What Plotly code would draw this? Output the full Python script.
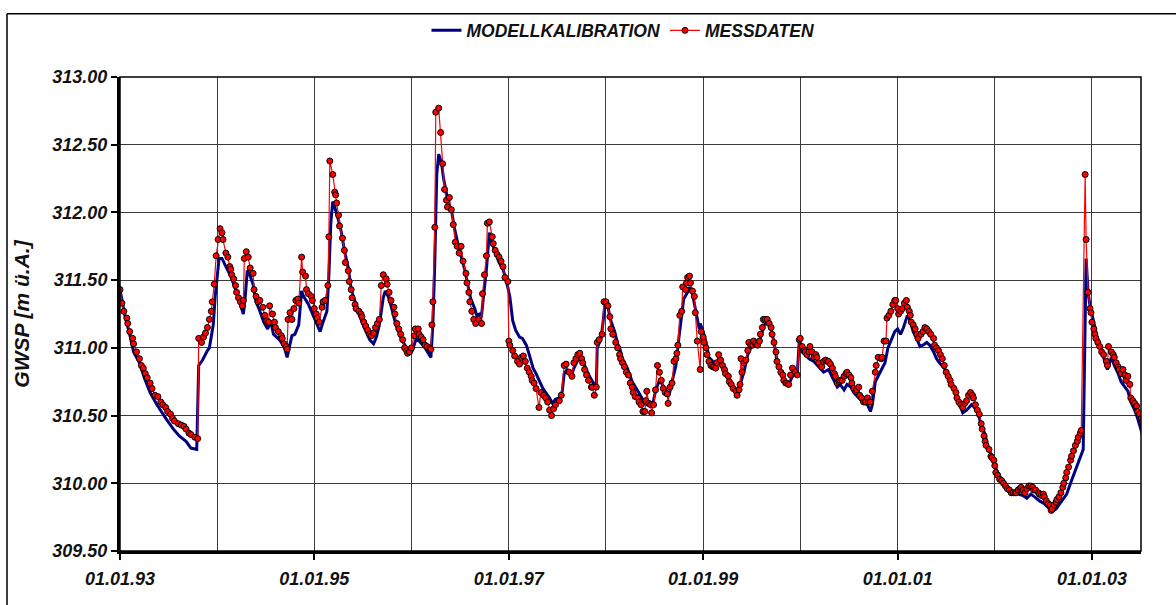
import pandas as pd
import plotly.graph_objects as go

# Zeitpunkte als Dezimaljahr, Grundwasserspiegel in m ü.A.
MESS_JAHR = [
    1993.00, 1993.02, 1993.04, 1993.07, 1993.08, 1993.10, 1993.13, 1993.14, 1993.17, 1993.20,
    1993.22, 1993.24, 1993.26, 1993.28, 1993.31, 1993.33, 1993.36, 1993.39, 1993.42, 1993.44,
    1993.47, 1993.49, 1993.52, 1993.54, 1993.56, 1993.60, 1993.63, 1993.66, 1993.68, 1993.71,
    1993.73, 1993.77, 1993.80, 1993.81, 1993.84, 1993.86, 1993.88, 1993.90, 1993.92, 1993.94,
    1993.95, 1993.97, 1993.99, 1994.01, 1994.03, 1994.05, 1994.06, 1994.09, 1994.11, 1994.13,
    1994.14, 1994.15, 1994.17, 1994.19, 1994.20, 1994.22, 1994.24, 1994.26, 1994.27, 1994.28,
    1994.30, 1994.32, 1994.34, 1994.37, 1994.38, 1994.40, 1994.42, 1994.44, 1994.47, 1994.49,
    1994.51, 1994.53, 1994.54, 1994.57, 1994.59, 1994.60, 1994.63, 1994.66, 1994.67, 1994.69,
    1994.71, 1994.72, 1994.73, 1994.75, 1994.77, 1994.79, 1994.81, 1994.83, 1994.84, 1994.87,
    1994.88, 1994.91, 1994.92, 1994.94, 1994.97, 1994.98, 1995.00, 1995.02, 1995.03, 1995.05,
    1995.08, 1995.09, 1995.11, 1995.14, 1995.15, 1995.16, 1995.19, 1995.21, 1995.22, 1995.23,
    1995.25, 1995.26, 1995.29, 1995.31, 1995.32, 1995.35, 1995.36, 1995.38, 1995.39, 1995.42,
    1995.43, 1995.46, 1995.48, 1995.49, 1995.51, 1995.53, 1995.55, 1995.57, 1995.59, 1995.61,
    1995.63, 1995.65, 1995.67, 1995.69, 1995.71, 1995.74, 1995.75, 1995.77, 1995.79, 1995.82,
    1995.83, 1995.85, 1995.87, 1995.89, 1995.91, 1995.93, 1995.95, 1995.96, 1995.98, 1996.00,
    1996.03, 1996.04, 1996.07, 1996.08, 1996.10, 1996.12, 1996.14, 1996.16, 1996.19, 1996.20,
    1996.21, 1996.22, 1996.24, 1996.25, 1996.28, 1996.30, 1996.32, 1996.34, 1996.36, 1996.37,
    1996.39, 1996.41, 1996.43, 1996.45, 1996.47, 1996.49, 1996.51, 1996.53, 1996.56, 1996.57,
    1996.59, 1996.60, 1996.62, 1996.64, 1996.66, 1996.69, 1996.72, 1996.73, 1996.75, 1996.77,
    1996.78, 1996.80, 1996.83, 1996.84, 1996.86, 1996.88, 1996.90, 1996.92, 1996.94, 1996.96,
    1996.99, 1997.00, 1997.01, 1997.04, 1997.06, 1997.09, 1997.11, 1997.13, 1997.15, 1997.17,
    1997.19, 1997.21, 1997.23, 1997.24, 1997.26, 1997.28, 1997.31, 1997.33, 1997.36, 1997.38,
    1997.40, 1997.42, 1997.44, 1997.46, 1997.48, 1997.52, 1997.54, 1997.57, 1997.59, 1997.62,
    1997.65, 1997.67, 1997.69, 1997.71, 1997.73, 1997.75, 1997.76, 1997.78, 1997.80, 1997.82,
    1997.85, 1997.86, 1997.88, 1997.90, 1997.91, 1997.93, 1997.96, 1997.98, 1998.00, 1998.02,
    1998.04, 1998.05, 1998.07, 1998.10, 1998.12, 1998.14, 1998.15, 1998.17, 1998.19, 1998.21,
    1998.23, 1998.25, 1998.27, 1998.28, 1998.30, 1998.33, 1998.34, 1998.36, 1998.38, 1998.40,
    1998.41, 1998.42, 1998.44, 1998.46, 1998.47, 1998.49, 1998.51, 1998.53, 1998.55, 1998.57,
    1998.59, 1998.61, 1998.63, 1998.64, 1998.66, 1998.68, 1998.70, 1998.72, 1998.73, 1998.74,
    1998.76, 1998.78, 1998.79, 1998.82, 1998.83, 1998.84, 1998.86, 1998.87, 1998.89, 1998.91,
    1998.92, 1998.94, 1998.97, 1998.98, 1999.00, 1999.01, 1999.03, 1999.04, 1999.06, 1999.08,
    1999.10, 1999.11, 1999.13, 1999.14, 1999.16, 1999.18, 1999.20, 1999.22, 1999.23, 1999.26,
    1999.27, 1999.29, 1999.31, 1999.34, 1999.35, 1999.37, 1999.38, 1999.39, 1999.40, 1999.42,
    1999.44, 1999.46, 1999.47, 1999.49, 1999.51, 1999.52, 1999.54, 1999.56, 1999.58, 1999.59,
    1999.61, 1999.62, 1999.64, 1999.66, 1999.68, 1999.70, 1999.71, 1999.73, 1999.75, 1999.76,
    1999.78, 1999.80, 1999.82, 1999.83, 1999.85, 1999.86, 1999.88, 1999.90, 1999.92, 1999.95,
    1999.97, 1999.99, 2000.00, 2000.02, 2000.04, 2000.05, 2000.07, 2000.09, 2000.10, 2000.12,
    2000.14, 2000.16, 2000.17, 2000.19, 2000.22, 2000.24, 2000.26, 2000.28, 2000.29, 2000.31,
    2000.33, 2000.35, 2000.36, 2000.38, 2000.40, 2000.41, 2000.43, 2000.45, 2000.47, 2000.48,
    2000.50, 2000.52, 2000.53, 2000.55, 2000.57, 2000.58, 2000.60, 2000.61, 2000.63, 2000.65,
    2000.67, 2000.69, 2000.70, 2000.72, 2000.74, 2000.77, 2000.78, 2000.80, 2000.83, 2000.84,
    2000.86, 2000.88, 2000.89, 2000.91, 2000.93, 2000.95, 2000.97, 2000.98, 2001.00, 2001.01,
    2001.03, 2001.05, 2001.07, 2001.09, 2001.10, 2001.12, 2001.13, 2001.14, 2001.16, 2001.18,
    2001.20, 2001.21, 2001.24, 2001.26, 2001.28, 2001.30, 2001.32, 2001.34, 2001.37, 2001.38,
    2001.40, 2001.42, 2001.44, 2001.46, 2001.48, 2001.50, 2001.52, 2001.54, 2001.55, 2001.58,
    2001.60, 2001.61, 2001.63, 2001.65, 2001.67, 2001.69, 2001.71, 2001.73, 2001.75, 2001.77,
    2001.78, 2001.80, 2001.82, 2001.84, 2001.86, 2001.87, 2001.89, 2001.90, 2001.91, 2001.94,
    2001.96, 2001.97, 2001.99, 2002.00, 2002.01, 2002.03, 2002.05, 2002.07, 2002.09, 2002.11,
    2002.13, 2002.15, 2002.17, 2002.19, 2002.21, 2002.22, 2002.24, 2002.26, 2002.27, 2002.29,
    2002.31, 2002.33, 2002.35, 2002.37, 2002.39, 2002.40, 2002.42, 2002.45, 2002.46, 2002.48,
    2002.50, 2002.51, 2002.53, 2002.55, 2002.57, 2002.58, 2002.59, 2002.61, 2002.63, 2002.64,
    2002.66, 2002.68, 2002.70, 2002.71, 2002.73, 2002.74, 2002.76, 2002.78, 2002.79, 2002.81,
    2002.83, 2002.85, 2002.86, 2002.88, 2002.89, 2002.93, 2002.94, 2002.96, 2002.98, 2002.99,
    2003.00, 2003.02, 2003.03, 2003.04, 2003.06, 2003.08, 2003.10, 2003.12, 2003.15, 2003.16,
    2003.17, 2003.20, 2003.22, 2003.23, 2003.25, 2003.27, 2003.28, 2003.30, 2003.32, 2003.34,
    2003.35, 2003.37, 2003.39, 2003.40, 2003.42, 2003.44, 2003.46, 2003.47, 2003.49, 2003.51,
    2003.53,
]

MESS_GWSP = [
    311.43, 311.33, 311.27, 311.22, 311.18, 311.12, 311.07, 311.03, 310.97, 310.92,
    310.87, 310.85, 310.81, 310.78, 310.74, 310.70, 310.65, 310.64, 310.60, 310.58,
    310.56, 310.53, 310.51, 310.48, 310.46, 310.44, 310.43, 310.42, 310.40, 310.37,
    310.36, 310.34, 310.33, 311.07, 311.04, 311.08, 311.11, 311.15, 311.21, 311.27,
    311.34, 311.47, 311.68, 311.80, 311.88, 311.85, 311.80, 311.70, 311.67, 311.60,
    311.58, 311.54, 311.51, 311.46, 311.41, 311.37, 311.34, 311.31, 311.35, 311.66,
    311.71, 311.67, 311.59, 311.55, 311.43, 311.38, 311.34, 311.35, 311.30, 311.24,
    311.20, 311.19, 311.31, 311.25, 311.19, 311.15, 311.12, 311.09, 311.07, 311.03,
    311.01, 310.99, 311.21, 311.26, 311.21, 311.29, 311.35, 311.36, 311.33, 311.67,
    311.56, 311.53, 311.43, 311.40, 311.38, 311.35, 311.29, 311.25, 311.22, 311.19,
    311.30, 311.34, 311.35, 311.46, 311.82, 312.38, 312.28, 312.15, 312.13, 312.07,
    311.98, 311.90, 311.81, 311.72, 311.63, 311.57, 311.49, 311.43, 311.37, 311.32,
    311.29, 311.27, 311.25, 311.23, 311.19, 311.16, 311.13, 311.10, 311.09, 311.11,
    311.15, 311.18, 311.21, 311.46, 311.54, 311.51, 311.47, 311.41, 311.35, 311.30,
    311.25, 311.18, 311.14, 311.10, 311.06, 311.00, 310.98, 310.96, 310.97, 311.00,
    311.09, 311.14, 311.14, 311.10, 311.08, 311.06, 311.02, 311.01, 311.00, 310.99,
    311.17, 311.34, 311.89, 312.74, 312.77, 312.59, 312.36, 312.17, 312.09, 312.04,
    312.11, 312.02, 311.91, 311.78, 311.75, 311.70, 311.75, 311.64, 311.55, 311.48,
    311.41, 311.34, 311.27, 311.21, 311.18, 311.21, 311.18, 311.40, 311.54, 311.68,
    311.92, 311.93, 311.82, 311.77, 311.72, 311.69, 311.67, 311.64, 311.60, 311.52,
    311.49, 311.05, 311.02, 310.98, 310.94, 310.90, 310.88, 310.93, 310.94, 310.90,
    310.85, 310.82, 310.79, 310.76, 310.74, 310.70, 310.56, 310.67, 310.65, 310.63,
    310.60, 310.54, 310.50, 310.55, 310.58, 310.61, 310.65, 310.87, 310.88, 310.82,
    310.79, 310.89, 310.92, 310.95, 310.96, 310.92, 310.89, 310.84, 310.80, 310.76,
    310.71, 310.71, 310.65, 310.71, 311.04, 311.06, 311.10, 311.34, 311.34, 311.31,
    311.23, 311.14, 311.10, 311.04, 311.00, 310.95, 310.92, 310.89, 310.86, 310.82,
    310.80, 310.74, 310.71, 310.67, 310.64, 310.63, 310.60, 310.58, 310.53, 310.53,
    310.61, 310.68, 310.59, 310.58, 310.52, 310.58, 310.69, 310.87, 310.82, 310.76,
    310.70, 310.67, 310.66, 310.59, 310.71, 310.74, 310.90, 310.92, 310.96, 311.02,
    311.24, 311.27, 311.45, 311.43, 311.48, 311.52, 311.53, 311.48, 311.42, 311.38,
    311.26, 311.05, 310.84, 311.12, 311.08, 311.04, 311.00, 310.95, 310.90, 310.87,
    310.86, 310.86, 310.85, 310.89, 310.95, 310.91, 310.87, 310.84, 310.81, 310.79,
    310.75, 310.73, 310.70, 310.68, 310.65, 310.69, 310.73, 310.92, 310.82, 310.89,
    310.91, 310.98, 311.04, 311.02, 311.02, 311.05, 311.03, 311.02, 311.05, 311.10,
    311.15, 311.21, 311.21, 311.21, 311.18, 311.15, 311.10, 311.04, 310.97, 310.90,
    310.86, 310.82, 310.80, 310.76, 310.74, 310.74, 310.73, 310.80, 310.85, 310.82,
    310.80, 311.06, 311.07, 311.01, 310.98, 310.97, 310.95, 310.97, 311.01, 310.97,
    310.93, 310.95, 310.93, 310.89, 310.86, 310.90, 310.91, 310.90, 310.90, 310.88,
    310.85, 310.81, 310.79, 310.74, 310.75, 310.76, 310.76, 310.79, 310.81, 310.82,
    310.80, 310.78, 310.74, 310.70, 310.68, 310.69, 310.71, 310.65, 310.63, 310.60,
    310.60, 310.63, 310.60, 310.60, 310.68, 310.82, 310.87, 310.93, 310.92, 310.93,
    311.05, 311.05, 311.22, 311.24, 311.27, 311.32, 311.35, 311.35, 311.29, 311.25,
    311.27, 311.29, 311.33, 311.35, 311.30, 311.27, 311.24, 311.19, 311.17, 311.14,
    311.10, 311.07, 311.10, 311.12, 311.15, 311.14, 311.12, 311.10, 311.07, 311.02,
    311.00, 310.98, 310.95, 310.92, 310.87, 310.82, 310.79, 310.76, 310.73, 310.70,
    310.67, 310.63, 310.60, 310.58, 310.56, 310.59, 310.61, 310.65, 310.67, 310.65,
    310.63, 310.58, 310.54, 310.51, 310.44, 310.40, 310.35, 310.31, 310.28, 310.25,
    310.20, 310.19, 310.17, 310.13, 310.08, 310.06, 310.03, 310.02, 310.00, 309.98,
    309.96, 309.95, 309.93, 309.93, 309.93, 309.93, 309.95, 309.96, 309.97, 309.95,
    309.93, 309.96, 309.98, 309.98, 309.97, 309.95, 309.95, 309.93, 309.92, 309.91,
    309.92, 309.90, 309.87, 309.85, 309.84, 309.80, 309.81, 309.84, 309.86, 309.88,
    309.90, 309.93, 309.97, 310.00, 310.04, 310.08, 310.12, 310.17, 310.20, 310.24,
    310.28, 310.31, 310.34, 310.37, 310.39, 312.28, 311.80, 311.41, 311.29, 311.26,
    311.19, 311.14, 311.10, 311.07, 311.04, 311.01, 310.97, 310.95, 310.90, 310.87,
    311.01, 310.97, 310.95, 310.93, 310.89, 310.86, 310.84, 310.81, 310.84, 310.80,
    310.76, 310.79, 310.73, 310.63, 310.61, 310.59, 310.57, 310.53, 310.51, 310.48,
    310.44,
]

MODELL_JAHR = [
    1993.00, 1993.05, 1993.10, 1993.14, 1993.20, 1993.25, 1993.31, 1993.38, 1993.48, 1993.55,
    1993.61, 1993.68, 1993.73, 1993.79, 1993.81, 1993.85, 1993.90, 1993.92, 1993.96, 1993.98,
    1994.02, 1994.05, 1994.09, 1994.14, 1994.19, 1994.25, 1994.27, 1994.29, 1994.31, 1994.33,
    1994.37, 1994.40, 1994.43, 1994.48, 1994.52, 1994.55, 1994.58, 1994.64, 1994.69, 1994.72,
    1994.77, 1994.80, 1994.84, 1994.87, 1994.89, 1994.94, 1994.99, 1995.03, 1995.06, 1995.09,
    1995.13, 1995.15, 1995.17, 1995.19, 1995.21, 1995.25, 1995.28, 1995.31, 1995.35, 1995.38,
    1995.42, 1995.47, 1995.52, 1995.57, 1995.61, 1995.64, 1995.67, 1995.71, 1995.73, 1995.76,
    1995.79, 1995.84, 1995.90, 1995.95, 1995.97, 1996.01, 1996.05, 1996.08, 1996.14, 1996.18,
    1996.20, 1996.22, 1996.24, 1996.26, 1996.28, 1996.31, 1996.33, 1996.36, 1996.38, 1996.41,
    1996.44, 1996.48, 1996.51, 1996.55, 1996.58, 1996.61, 1996.65, 1996.67, 1996.70, 1996.72,
    1996.74, 1996.77, 1996.80, 1996.83, 1996.87, 1996.90, 1996.94, 1996.97, 1997.01, 1997.04,
    1997.07, 1997.11, 1997.14, 1997.18, 1997.21, 1997.25, 1997.28, 1997.31, 1997.35, 1997.38,
    1997.42, 1997.45, 1997.48, 1997.52, 1997.55, 1997.57, 1997.60, 1997.64, 1997.67, 1997.71,
    1997.73, 1997.78, 1997.83, 1997.87, 1997.90, 1997.91, 1997.95, 1997.97, 1997.99, 1998.02,
    1998.05, 1998.09, 1998.12, 1998.14, 1998.17, 1998.22, 1998.27, 1998.33, 1998.38, 1998.41,
    1998.45, 1998.48, 1998.51, 1998.55, 1998.58, 1998.62, 1998.65, 1998.68, 1998.72, 1998.75,
    1998.77, 1998.80, 1998.84, 1998.86, 1998.89, 1998.92, 1998.96, 1998.97, 1999.00, 1999.03,
    1999.06, 1999.10, 1999.13, 1999.16, 1999.20, 1999.25, 1999.30, 1999.35, 1999.39, 1999.42,
    1999.46, 1999.49, 1999.52, 1999.56, 1999.59, 1999.63, 1999.66, 1999.70, 1999.73, 1999.76,
    1999.80, 1999.85, 1999.88, 1999.92, 1999.97, 1999.99, 2000.02, 2000.09, 2000.14, 2000.19,
    2000.24, 2000.29, 2000.35, 2000.38, 2000.41, 2000.45, 2000.48, 2000.52, 2000.55, 2000.60,
    2000.65, 2000.69, 2000.72, 2000.74, 2000.77, 2000.80, 2000.84, 2000.87, 2000.90, 2000.94,
    2000.97, 2001.00, 2001.03, 2001.06, 2001.10, 2001.13, 2001.16, 2001.20, 2001.23, 2001.26,
    2001.30, 2001.33, 2001.37, 2001.40, 2001.43, 2001.49, 2001.54, 2001.59, 2001.64, 2001.67,
    2001.71, 2001.76, 2001.79, 2001.83, 2001.86, 2001.90, 2001.93, 2001.97, 2002.00, 2002.03,
    2002.08, 2002.14, 2002.19, 2002.24, 2002.29, 2002.33, 2002.37, 2002.41, 2002.46, 2002.51,
    2002.55, 2002.59, 2002.63, 2002.68, 2002.74, 2002.79, 2002.84, 2002.89, 2002.91, 2002.94,
    2002.96, 2002.98, 2003.01, 2003.05, 2003.08, 2003.11, 2003.13, 2003.16, 2003.20, 2003.23,
    2003.27, 2003.30, 2003.34, 2003.37, 2003.40, 2003.44, 2003.47, 2003.52,
]

MODELL_GWSP = [
    311.43, 311.24, 311.10, 310.97, 310.89, 310.78, 310.67, 310.58, 310.47, 310.40,
    310.35, 310.31, 310.26, 310.25, 310.87, 310.91, 310.98, 311.00, 311.17, 311.38,
    311.66, 311.66, 311.60, 311.53, 311.43, 311.30, 311.25, 311.38, 311.57, 311.55,
    311.47, 311.34, 311.29, 311.19, 311.14, 311.20, 311.10, 311.06, 311.01, 310.93,
    311.09, 311.10, 311.17, 311.42, 311.38, 311.32, 311.24, 311.18, 311.12, 311.19,
    311.27, 311.53, 311.92, 312.08, 312.04, 311.94, 311.85, 311.72, 311.59, 311.43,
    311.34, 311.23, 311.14, 311.06, 311.03, 311.08, 311.17, 311.37, 311.42, 311.38,
    311.31, 311.17, 311.06, 311.00, 310.95, 310.98, 311.07, 311.05, 311.00, 310.95,
    310.93, 311.17, 311.63, 312.28, 312.43, 312.36, 312.25, 312.14, 312.06, 312.02,
    311.89, 311.76, 311.68, 311.57, 311.46, 311.36, 311.29, 311.24, 311.25, 311.24,
    311.38, 311.58, 311.85, 311.77, 311.69, 311.63, 311.58, 311.51, 311.38, 311.20,
    311.13, 311.08, 311.07, 311.02, 310.95, 310.85, 310.81, 310.76, 310.70, 310.67,
    310.63, 310.59, 310.62, 310.63, 310.68, 310.81, 310.84, 310.79, 310.85, 310.91,
    310.95, 310.87, 310.79, 310.74, 310.71, 311.00, 311.07, 311.19, 311.33, 311.30,
    311.20, 311.12, 311.03, 311.00, 310.92, 310.85, 310.75, 310.68, 310.62, 310.58,
    310.60, 310.58, 310.68, 310.76, 310.73, 310.68, 310.65, 310.75, 310.87, 311.07,
    311.19, 311.36, 311.41, 311.45, 311.40, 311.29, 311.14, 311.18, 311.12, 311.04,
    310.93, 310.90, 310.86, 310.90, 310.85, 310.78, 310.71, 310.68, 310.75, 310.82,
    310.95, 311.00, 311.02, 311.01, 311.07, 311.17, 311.19, 311.14, 311.04, 310.91,
    310.82, 310.75, 310.73, 310.79, 310.81, 311.06, 310.97, 310.92, 310.90, 310.86,
    310.82, 310.84, 310.75, 310.71, 310.73, 310.69, 310.73, 310.71, 310.67, 310.63,
    310.60, 310.58, 310.53, 310.58, 310.75, 310.79, 310.84, 310.89, 311.00, 311.07,
    311.12, 311.14, 311.10, 311.15, 311.24, 311.20, 311.12, 311.06, 311.01, 311.02,
    311.04, 311.02, 310.97, 310.92, 310.89, 310.84, 310.75, 310.68, 310.58, 310.52,
    310.54, 310.58, 310.56, 310.51, 310.43, 310.36, 310.26, 310.20, 310.14, 310.07,
    310.00, 309.96, 309.93, 309.92, 309.91, 309.89, 309.92, 309.90, 309.87, 309.85,
    309.82, 309.79, 309.81, 309.86, 309.92, 310.02, 310.12, 310.21, 310.25, 311.66,
    311.41, 311.31, 311.21, 311.09, 311.02, 310.97, 310.90, 310.84, 310.93, 310.87,
    310.81, 310.75, 310.71, 310.68, 310.60, 310.54, 310.48, 310.36,
]

Y_MIN, Y_MAX, Y_SCHRITT = 309.5, 313.0, 0.5
X_START, X_ENDE = 1993.0, 2003.505


def jahr_zu_datum(jahre):
    """Dezimaljahr -> Zeitstempel."""
    out = []
    for j in jahre:
        y = int(j)
        beginn = pd.Timestamp(year=y, month=1, day=1)
        ende = pd.Timestamp(year=y + 1, month=1, day=1)
        out.append(beginn + (ende - beginn) * (j - y))
    return out


SCHRIFT = "Liberation Sans"
GITTER = "#3c3c3c"

fig = go.Figure()

fig.add_trace(go.Scatter(
    x=jahr_zu_datum(MODELL_JAHR), y=MODELL_GWSP,
    mode="lines", name="MODELLKALIBRATION",
    line=dict(color="#000080", width=3),
))

fig.add_trace(go.Scatter(
    x=jahr_zu_datum(MESS_JAHR), y=MESS_GWSP,
    mode="lines+markers", name="MESSDATEN",
    line=dict(color="#FF0000", width=1.2),
    marker=dict(symbol="circle", size=6, color="#FF0000",
                line=dict(color="#000000", width=1)),
))

W, H = 1176, 605
ML, MR, MT, MB = 120, 35, 72, 54
pw, ph = W - ML - MR, H - MT - MB


def px_x(p):
    return (p - ML) / pw


def px_y(p):
    return (H - MB - p) / ph


achsen_schrift = dict(family=SCHRIFT, size=18, color="#111111",
                      weight="bold", style="italic")

fig.update_layout(
    width=W, height=H,
    margin=dict(l=ML, r=MR, t=MT, b=MB, pad=0),
    paper_bgcolor="white", plot_bgcolor="white",
    showlegend=True,
    legend=dict(
        orientation="h", x=px_x(623), xanchor="center",
        y=px_y(25), yanchor="middle",
        font=dict(family=SCHRIFT, size=17.5, color="#111111",
                  weight="bold", style="italic"),
        bgcolor="rgba(0,0,0,0)", itemwidth=30, tracegroupgap=0,
    ),
    xaxis=dict(
        type="date",
        range=jahr_zu_datum([X_START, X_ENDE]),
        tick0="1993-01-01", dtick="M24", tickformat="%d.%m.%y",
        ticks="outside", ticklen=6, tickwidth=2, tickcolor="black",
        showline=True, linewidth=3, linecolor="black", mirror=False,
        showgrid=True, gridcolor=GITTER, gridwidth=1,
        minor=dict(tick0="1993-01-01", dtick="M12", showgrid=True,
                   gridcolor=GITTER, gridwidth=1, ticks=""),
        zeroline=False, tickfont=achsen_schrift,
        ticklabelstandoff=3,
    ),
    yaxis=dict(
        range=[Y_MIN, Y_MAX], tick0=Y_MIN, dtick=Y_SCHRITT, tickformat=".2f",
        ticks="outside", ticklen=6, tickwidth=2, tickcolor="black",
        showline=True, linewidth=3, linecolor="black", mirror=False,
        showgrid=True, gridcolor=GITTER, gridwidth=1,
        zeroline=False, tickfont=achsen_schrift,
        title=dict(text="GWSP [m ü.A.]", standoff=17,
                   font=dict(family=SCHRIFT, size=21, color="#111111",
                             weight="bold", style="italic")),
    ),
    shapes=[
        # Rahmen der Zeichenfläche
        dict(type="rect", xref="paper", yref="paper", x0=0, y0=0, x1=1, y1=1,
             line=dict(color="black", width=1.5), layer="above"),
        # Diagrammrahmen oben und links
        dict(type="line", xref="paper", yref="paper",
             x0=px_x(7), y0=px_y(8), x1=px_x(1200), y1=px_y(8),
             line=dict(color="black", width=1.5)),
        dict(type="line", xref="paper", yref="paper",
             x0=px_x(7), y0=px_y(8), x1=px_x(7), y1=px_y(640),
             line=dict(color="black", width=1.5)),
    ],
)

fig.write_html("out.html")
